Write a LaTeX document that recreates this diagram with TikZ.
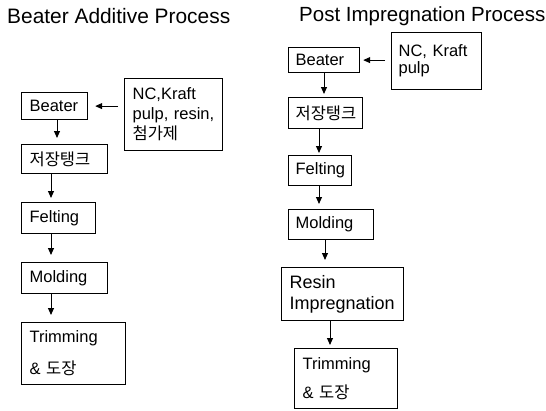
\documentclass[tikz,border=0pt]{standalone}
\usepackage{fontspec}
\setmainfont{Liberation Sans}
\newfontfamily\kr{Noto Sans CJK KR}
\usetikzlibrary{arrows.meta}
\begin{document}
\begin{tikzpicture}[x=1pt,y=-1pt,
  pbox/.style n args={3}{draw, line width=1.2pt, anchor=north west,
    minimum width=#1, minimum height=#2, text width=#3,
    inner xsep=8pt, inner ysep=0pt, align=left,
    font=\fontsize{16.5}{20}\selectfont},
  arr/.style={line width=1pt, -{Triangle[length=7pt,width=6pt]}},
  ttl/.style={anchor=base west, inner sep=0pt, font=\fontsize{20.5}{24}\selectfont}]
\useasboundingbox (0,0) rectangle (546,410);
% titles
\node[ttl, font=\fontsize{20.9}{24}\selectfont] (t1) at (7,23) {Beater Additive Process};
\node[ttl] (t2) at (299,21) {Post Impregnation Process};
% left column
\node[pbox={66pt}{27pt}{50pt}] (lb) at (21,92) {Beater};
\node[pbox={98pt}{72pt}{82pt}, inner xsep=7pt] (lin) at (124,78) {NC,Kraft\\pulp, resin,\\{\kr 첨가제}};
\node[pbox={86pt}{29pt}{70pt}] (lt) at (21,144) {\kr 저장탱크};
\node[pbox={74pt}{31pt}{58pt}] (lf) at (21,202) {Felting};
\node[pbox={86pt}{31pt}{70pt}] (lm) at (21,262) {Molding};
\node[pbox={104pt}{62pt}{88pt}, font=\fontsize{16.5}{32}\selectfont] (ltr) at (21,322) {Trimming\\\& {\kr 도장}};
% right column
\node[pbox={71pt}{25pt}{57pt}, inner xsep=7pt] (rb) at (288,47) {Beater};
\node[pbox={90pt}{57pt}{76pt}, inner xsep=7pt, font=\fontsize{16.5}{17}\selectfont] (rin) at (391,32) {NC, Kraft\\pulp};
\node[pbox={74pt}{31pt}{60pt}, inner xsep=7pt] (rt) at (288,97) {\kr 저장탱크};
\node[pbox={63pt}{30pt}{49pt}, inner xsep=7pt] (rf) at (288,155) {Felting};
\node[pbox={85pt}{30pt}{71pt}, inner xsep=7pt] (rm) at (288,209) {Molding};
\node[pbox={122pt}{53pt}{106pt}, font=\fontsize{18}{21}\selectfont] (rr) at (281,267) {Resin\\Impregnation};
\node[pbox={103pt}{60pt}{87pt}, font=\fontsize{16.5}{29}\selectfont] (rtr) at (294,348) {Trimming\\\& {\kr 도장}};
% left arrows
\draw[arr, shorten <=6pt, shorten >=7pt] (lin.west |- lb.east) -- (lb.east);
\coordinate (la1) at ([xshift=36pt]lb.south west);
\coordinate (la2) at ([xshift=30pt]lt.south west);
\coordinate (la3) at ([xshift=30pt]lf.south west);
\coordinate (la4) at ([xshift=30pt]lm.south west);
\draw[arr, shorten >=6pt] (la1) -- (la1 |- lt.north);
\draw[arr, shorten >=4pt] (la2) -- (la2 |- lf.north);
\draw[arr, shorten >=7pt] (la3) -- (la3 |- lm.north);
\draw[arr, shorten >=7pt] (la4) -- (la4 |- ltr.north);
% right arrows
\draw[arr, shorten <=6pt, shorten >=3pt] (rin.west |- rb.east) -- (rb.east);
\coordinate (ra1) at ([xshift=36pt]rb.south west);
\coordinate (ra2) at ([xshift=31pt]rt.south west);
\coordinate (ra3) at ([xshift=31pt]rf.south west);
\coordinate (ra4) at ([xshift=37pt]rm.south west);
\coordinate (ra5) at ([xshift=49pt]rr.south west);
\draw[arr, shorten >=3pt] (ra1) -- (ra1 |- rt.north);
\draw[arr, shorten >=2pt] (ra2) -- (ra2 |- rf.north);
\draw[arr, shorten >=5pt] (ra3) -- (ra3 |- rm.north);
\draw[arr, shorten >=7pt] (ra4) -- (ra4 |- rr.north);
\draw[arr, shorten >=3pt] (ra5) -- (ra5 |- rtr.north);
\end{tikzpicture}
\end{document}
